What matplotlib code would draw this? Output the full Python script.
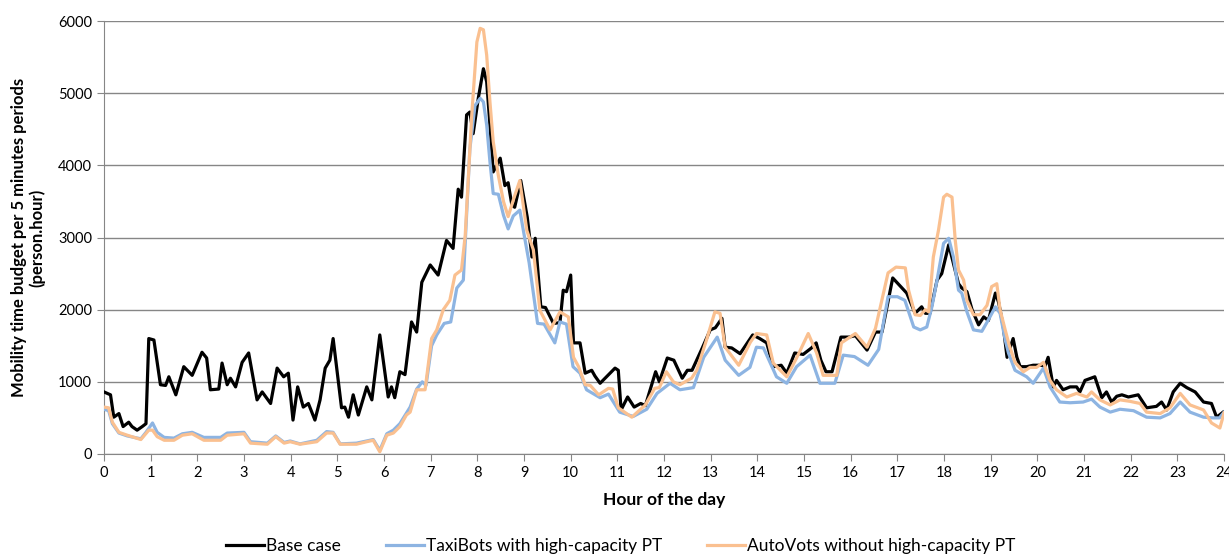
import matplotlib
matplotlib.use("Agg")
import matplotlib.pyplot as plt
import numpy as np

plt.rcParams['font.family'] = ['Lato', 'DejaVu Sans']

# hour of day / person.hour per 5 min period
base_h = [0.00, 0.14, 0.21, 0.32, 0.41, 0.53, 0.60, 0.71, 0.82, 0.90, 0.96, 1.07, 1.21, 1.32, 1.39, 1.54, 1.71, 1.89,
          2.10, 2.20, 2.28, 2.46, 2.53, 2.64, 2.71, 2.82, 2.96, 3.10, 3.28, 3.39, 3.57, 3.71, 3.85, 3.95, 4.05, 4.15,
          4.27, 4.38, 4.52, 4.63, 4.74, 4.84, 4.91, 5.09, 5.16, 5.24, 5.34, 5.45, 5.63, 5.74, 5.91, 6.09, 6.16, 6.23,
          6.34, 6.45, 6.59, 6.70, 6.81, 6.99, 7.16, 7.34, 7.48, 7.59, 7.66, 7.77, 7.84, 7.91, 8.02, 8.13, 8.20, 8.27,
          8.34, 8.49, 8.59, 8.66, 8.74, 8.80, 8.93, 9.07, 9.17, 9.24, 9.36, 9.46, 9.63, 9.77, 9.84, 9.91, 10.00, 10.06,
          10.20, 10.31, 10.45, 10.52, 10.63, 10.95, 11.02, 11.08, 11.22, 11.36, 11.50, 11.60, 11.82, 11.90, 12.07,
          12.21, 12.39, 12.50, 12.60, 12.82, 12.99, 13.10, 13.24, 13.31, 13.45, 13.63, 13.90, 14.05, 14.20, 14.34,
          14.51, 14.63, 14.80, 14.98, 15.16, 15.26, 15.36, 15.47, 15.60, 15.79, 15.96, 16.10, 16.35, 16.53, 16.67,
          16.90, 17.00, 17.20, 17.38, 17.52, 17.60, 17.70, 17.85, 17.95, 18.10, 18.20, 18.31, 18.38, 18.49, 18.60,
          18.74, 18.85, 18.95, 19.10, 19.17, 19.27, 19.35, 19.48, 19.56, 19.63, 19.77, 19.91, 20.09, 20.16, 20.23,
          20.34, 20.41, 20.55, 20.70, 20.84, 20.91, 21.02, 21.23, 21.38, 21.48, 21.59, 21.70, 21.81, 21.95, 22.16,
          22.34, 22.55, 22.66, 22.77, 22.91, 23.06, 23.20, 23.38, 23.56, 23.73, 23.84, 23.98]
base_v = [860, 820, 510, 560, 380, 440, 380, 330, 380, 420, 1600, 1580, 960, 950, 1070, 820, 1210, 1090,
          1410, 1330, 890, 900, 1260, 960, 1050, 930, 1270, 1400, 750, 860, 700, 1190, 1070, 1120, 470, 930,
          650, 700, 470, 750, 1190, 1300, 1600, 640, 650, 510, 820, 540, 930, 750, 1650, 790, 930, 780,
          1140, 1100, 1830, 1690, 2380, 2620, 2480, 2960, 2850, 3670, 3560, 4700, 4740, 4440, 4930, 5340, 5160, 4560,
          3910, 4100, 3720, 3760, 3450, 3420, 3790, 3280, 2730, 2990, 2040, 2030, 1810, 1820, 2270, 2250, 2480, 1540,
          1540, 1120, 1160, 1080, 980, 1190, 1160, 610, 790, 650, 700, 670, 1140, 1000, 1330,
          1300, 1050, 1160, 1160, 1470, 1720, 1750, 1880, 1480, 1470, 1390, 1650, 1600, 1540, 1210,
          1230, 1120, 1400, 1380, 1470, 1540, 1300, 1140, 1140, 1620, 1620, 1640, 1440, 1690, 1690,
          2440, 2370, 2230, 1950, 2040, 1950, 1950, 2410, 2500, 2900, 2640, 2360, 2300, 2250, 2000,
          1790, 1900, 1850, 2230, 2100, 1760, 1340, 1600, 1340, 1210, 1210, 1230, 1230, 1210, 1340,
          930, 1020, 890, 930, 930, 860, 1020, 1070, 780, 860, 720, 800, 820, 790, 820,
          640, 660, 720, 610, 860, 980, 920, 860, 720, 700, 510, 580]

taxi_h = [0.00, 0.10, 0.18, 0.32, 0.50, 0.79, 0.90, 1.04, 1.14, 1.29, 1.50, 1.68, 1.89, 2.14, 2.50, 2.64, 3.00, 3.14,
          3.50, 3.68, 3.86, 3.99, 4.20, 4.56, 4.77, 4.91, 5.06, 5.41, 5.63, 5.77, 5.91, 6.06, 6.20, 6.34, 6.56, 6.70,
          6.82, 6.90, 7.02, 7.13, 7.29, 7.43, 7.56, 7.70, 7.84, 7.95, 8.06, 8.13, 8.20, 8.27, 8.34, 8.45, 8.56, 8.66,
          8.77, 8.91, 9.01, 9.11, 9.29, 9.43, 9.66, 9.77, 9.91, 10.05, 10.20, 10.34, 10.63, 10.81, 11.05, 11.34,
          11.63, 11.85, 12.13, 12.34, 12.63, 12.85, 13.14, 13.31, 13.60, 13.84, 13.98, 14.13, 14.41, 14.63, 14.84,
          15.13, 15.34, 15.66, 15.84, 16.08, 16.37, 16.60, 16.80, 17.00, 17.16, 17.35, 17.49, 17.63, 17.74, 17.85,
          17.99, 18.10, 18.20, 18.31, 18.38, 18.49, 18.63, 18.81, 18.95, 19.10, 19.20, 19.31, 19.38, 19.52, 19.77,
          19.91, 20.13, 20.27, 20.48, 20.70, 20.98, 21.16, 21.34, 21.56, 21.77, 22.06, 22.34, 22.63, 22.84, 23.06,
          23.27, 23.56, 23.77, 23.90, 24.00]
taxi_v = [620, 600, 420, 290, 250, 210, 300, 430, 300, 230, 220, 280, 300, 230, 230, 290, 300, 170,
          150, 250, 160, 180, 140, 190, 310, 300, 140, 150, 180, 200, 50, 280, 330, 420, 650, 900,
          1000, 950, 1500, 1650, 1810, 1830, 2300, 2410, 4230, 4830, 4930, 4880, 4560, 4050, 3610, 3600, 3310, 3120,
          3300, 3380, 3010, 2650, 1810, 1800, 1540, 1830, 1800, 1210, 1120, 890, 780, 830, 580, 520,
          620, 840, 980, 890, 920, 1340, 1620, 1300, 1090, 1200, 1480, 1470, 1070, 980, 1210,
          1370, 980, 980, 1370, 1350, 1230, 1450, 2180, 2180, 2130, 1760, 1720, 1760, 2040, 2410,
          2920, 2990, 2730, 2270, 2230, 1970, 1720, 1700, 1860, 2040, 1950, 1580, 1400, 1160, 1070,
          980, 1190, 930, 720, 710, 720, 760, 650, 580, 620, 600, 510, 500, 560, 720,
          580, 510, 500, 500, 580]

auto_h = [0.00, 0.10, 0.18, 0.32, 0.50, 0.79, 0.96, 1.04, 1.14, 1.29, 1.50, 1.68, 1.89, 2.14, 2.50, 2.64, 3.00, 3.14,
          3.50, 3.68, 3.86, 3.99, 4.20, 4.56, 4.77, 4.91, 5.06, 5.41, 5.63, 5.77, 5.91, 6.06, 6.20, 6.34, 6.48, 6.56,
          6.70, 6.88, 7.02, 7.13, 7.27, 7.41, 7.52, 7.66, 7.74, 7.88, 7.99, 8.06, 8.13, 8.20, 8.27, 8.34, 8.45, 8.56,
          8.66, 8.77, 8.91, 9.06, 9.20, 9.34, 9.56, 9.77, 9.95, 10.06, 10.17, 10.31, 10.42, 10.60, 10.81, 10.90,
          11.02, 11.31, 11.60, 11.80, 11.90, 12.05, 12.20, 12.34, 12.59, 12.70, 12.91, 13.09, 13.20, 13.31, 13.60,
          13.85, 13.98, 14.20, 14.34, 14.63, 14.84, 15.09, 15.27, 15.41, 15.70, 15.80, 16.10, 16.35, 16.53, 16.80,
          16.97, 17.17, 17.24, 17.38, 17.49, 17.60, 17.67, 17.77, 17.88, 17.99, 18.06, 18.17, 18.24, 18.31, 18.42,
          18.49, 18.63, 18.77, 18.92, 19.02, 19.13, 19.20, 19.31, 19.40, 19.52, 19.70, 19.84, 19.98, 20.13, 20.27,
          20.41, 20.63, 20.84, 21.06, 21.16, 21.34, 21.56, 21.77, 21.98, 22.20, 22.34, 22.63, 22.84, 23.06, 23.27,
          23.56, 23.73, 23.91, 24.00]
auto_v = [650, 640, 440, 300, 260, 200, 330, 330, 240, 190, 190, 260, 280, 190, 190, 260, 280, 150,
          135, 240, 150, 170, 135, 170, 290, 290, 135, 135, 170, 190, 30, 260, 290, 380, 540, 580,
          890, 890, 1600, 1720, 2000, 2130, 2480, 2550, 3030, 4700, 5710, 5900, 5880, 5530, 4880, 4330, 3860, 3500,
          3290, 3520, 3790, 3100, 2830, 1990, 1720, 1970, 1900, 1340, 1210, 960, 950, 820, 910, 900,
          640, 510, 680, 910, 920, 1140, 1000, 960, 1050, 1160, 1580, 1970, 1950, 1480, 1230,
          1550, 1670, 1650, 1260, 1070, 1330, 1670, 1400, 1090, 1090, 1540, 1670, 1480, 1740, 2510,
          2590, 2580, 2270, 1930, 1920, 2000, 1970, 2730, 3100, 3560, 3600, 3560, 2960, 2550, 2410,
          2130, 1930, 1930, 2060, 2320, 2360, 2000, 1720, 1500, 1270, 1140, 1200, 1200, 1270, 1020,
          890, 790, 840, 790, 860, 750, 680, 750, 730, 700, 580, 560, 640, 840, 680,
          610, 430, 360, 570]

fig = plt.figure(figsize=(12.29, 5.56), dpi=100)
ax = fig.add_axes([0.0846, 0.1835, 0.9114, 0.7785])

lw = 2.3
ax.plot(base_h, base_v, color='black', lw=lw, solid_joinstyle='round', label='Base case', zorder=3)
ax.plot(taxi_h, taxi_v, color='#8DB4E2', lw=lw, solid_joinstyle='round',
        label='TaxiBots with high-capacity PT', zorder=4)
ax.plot(auto_h, auto_v, color='#FAC090', lw=lw, solid_joinstyle='round',
        label='AutoVots without high-capacity PT', zorder=5)

ax.set_xlim(0, 24)
ax.set_ylim(0, 6000)
ax.set_xticks(range(0, 25))
ax.set_yticks(range(0, 6001, 1000))
ax.yaxis.grid(True, color='#868686', lw=1)
ax.set_axisbelow(True)
for s in ['top', 'right']:
    ax.spines[s].set_visible(False)
for s in ['left', 'bottom']:
    ax.spines[s].set_color('#868686')
ax.tick_params(axis='both', colors='#868686', labelcolor='black', labelsize=10.5, length=5)

ax.set_xlabel('Hour of the day', fontsize=12.5, fontweight='bold', labelpad=9)
ax.set_ylabel('Mobility time budget per 5 minutes periods\n(person.hour)', fontsize=12,
              fontweight='bold', labelpad=9, linespacing=1.15)

fig.legend(loc='lower center', bbox_to_anchor=(0.505, -0.025), ncol=3, frameon=False,
           fontsize=12.5, handlelength=2.2, handletextpad=0.1, columnspacing=2.6)

fig.savefig('out.png', dpi=100)
